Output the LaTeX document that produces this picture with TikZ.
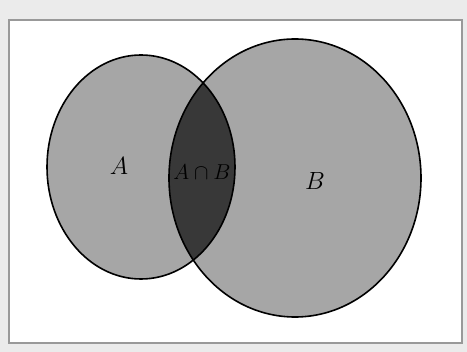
\documentclass[tikz,border=0pt]{standalone}
\begin{document}
\begin{tikzpicture}[x=1pt,y=-1pt,
  setA/.style={draw=black,line width=1.6pt},
  lab/.style={font=\fontsize{26}{30}\selectfont}]
\useasboundingbox[fill=black!8] (0,0) rectangle (467,352);
\draw[fill=white,draw=black!40,line width=2pt] (9,20) rectangle (462,343);
\fill[black!35] (141,167) ellipse [x radius=94,y radius=112];
\fill[black!35] (295,178) ellipse [x radius=126,y radius=139];
\begin{scope}
  \clip (141,167) ellipse [x radius=94,y radius=112];
  \fill[black!78] (295,178) ellipse [x radius=126,y radius=139];
\end{scope}
\draw[setA] (141,167) ellipse [x radius=94,y radius=112];
\draw[setA] (295,178) ellipse [x radius=126,y radius=139];
\node[lab] (a) at (119,166) {$A$};
\node[lab] (b) at (315,181) {$B$};
\node[scale=1.8,inner sep=0pt] (ab) at (202,172) {\large$A\cap B$};
\end{tikzpicture}
\end{document}
